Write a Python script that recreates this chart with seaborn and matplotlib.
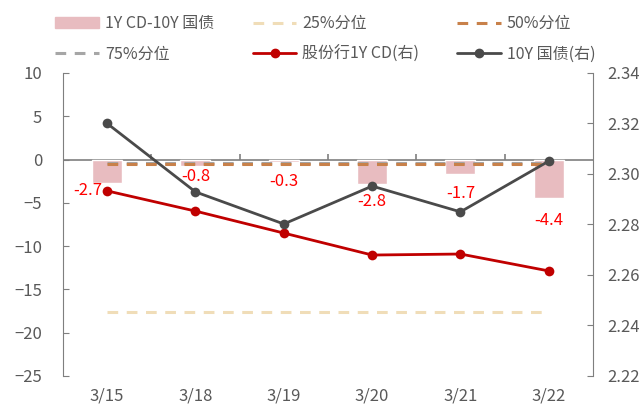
import numpy as np
import seaborn as sns
import matplotlib.pyplot as plt
from matplotlib.lines import Line2D
from matplotlib.patches import Patch

dates = ["3/15", "3/18", "3/19", "3/20", "3/21", "3/22"]
spread = [-2.7, -0.8, -0.3, -2.8, -1.7, -4.4]
cd_1y = [2.2933, 2.2853, 2.2766, 2.2679, 2.2683, 2.2616]
gov_10y = [2.320, 2.2929, 2.2802, 2.2952, 2.2850, 2.3051]
p25, p50, p75 = -17.6, -0.5, -0.45

# label nudges (points), placed like the original
label_off = [(-14, -5.5), (0, -7), (0, -14), (0, -13), (0, -13.5), (0, -16.5)]

sns.set_style("white")
plt.rcParams["font.family"] = ["Noto Sans CJK SC", "DejaVu Sans"]

grey_txt = "#595959"
pink = "#E8BCC0"
red = "#C00000"
dark = "#4A4A4A"
c25, c50, c75 = "#F0DDB8", "#C8814A", "#A6A6A6"
fs = 12

fig = plt.figure(figsize=(6.42, 4.07), dpi=100)
ax = fig.add_axes([0.0981, 0.0762, 0.8255, 0.7445])
x = np.arange(len(dates))

sns.barplot(x=dates, y=spread, color=pink, width=0.34, saturation=1, ax=ax, zorder=2)
sns.lineplot(x=x, y=[p75] * len(x), color=c75, lw=2.2, ax=ax, zorder=3)
ax.lines[-1].set_dashes([3.5, 2.8])
sns.lineplot(x=x, y=[p25] * len(x), color=c25, lw=2.2, ax=ax, zorder=3)
ax.lines[-1].set_dashes([3.5, 2.8])
sns.lineplot(x=x, y=[p50] * len(x), color=c50, lw=2.2, ax=ax, zorder=3)
ax.lines[-1].set_dashes([3.5, 2.8])

ax.set_ylim(-25, 10)
ax.set_yticks(np.arange(-25, 11, 5))
ax.set_xlim(-0.5, len(dates) - 0.5)
ax.axhline(0, color="#7F7F7F", lw=1.2, zorder=1)
ax.vlines(x[:-1] + 0.5, 0, 0.6, color="#7F7F7F", lw=1.2, zorder=1)

for i, v in enumerate(spread):
    ax.annotate(f"{v:.1f}", (i, v), xytext=label_off[i], textcoords="offset points",
                ha="center", va="center", color="#FF0000", fontsize=fs, zorder=6)

ax2 = ax.twinx()
sns.lineplot(x=x, y=cd_1y, color=red, lw=2, marker="o", markersize=7,
             markeredgewidth=0, ax=ax2, zorder=4)
sns.lineplot(x=x, y=gov_10y, color=dark, lw=2, marker="o", markersize=7,
             markeredgewidth=0, ax=ax2, zorder=4)
ax2.set_ylim(2.22, 2.34)
ax2.set_yticks(np.arange(2.22, 2.3401, 0.02))
ax2.set_yticklabels([f"{t:.2f}" for t in np.arange(2.22, 2.3401, 0.02)])

for a in (ax, ax2):
    for s in ("top", "bottom"):
        a.spines[s].set_visible(False)
    a.spines["left"].set_color("#7F7F7F")
    a.spines["right"].set_color("#7F7F7F")
    a.set_xlabel("")
    a.set_ylabel("")
ax.spines["right"].set_visible(False)
ax2.spines["left"].set_visible(False)

ax.tick_params(axis="y", direction="in", length=4, color="#7F7F7F",
               labelcolor=grey_txt, labelsize=fs, pad=15)
ax2.tick_params(axis="y", direction="in", length=4, color="#7F7F7F",
                labelcolor=grey_txt, labelsize=fs, pad=10)
ax.tick_params(axis="x", length=0, labelcolor=grey_txt, labelsize=fs, pad=8)
ax.set_xticks(x)
ax.set_xticklabels(dates)

handles = [
    Patch(color=pink, label="1Y CD-10Y 国债"),
    Line2D([], [], color=c75, lw=2.2, dashes=[3.5, 2.8], label="75%分位"),
    Line2D([], [], color=c25, lw=2.2, dashes=[3.5, 2.8], label="25%分位"),
    Line2D([], [], color=red, lw=2, marker="o", markersize=6, label="股份行1Y CD(右)"),
    Line2D([], [], color=c50, lw=2.2, dashes=[3.5, 2.8], label="50%分位"),
    Line2D([], [], color=dark, lw=2, marker="o", markersize=6, label="10Y 国债(右)"),
]
leg = fig.legend(handles=handles, ncol=3, loc="upper left", bbox_to_anchor=(0.064, 0.998),
                 frameon=False, fontsize=11.5, handlelength=2.75, handletextpad=0.35,
                 columnspacing=2.4, labelspacing=0.85)
for t in leg.get_texts():
    t.set_color(grey_txt)

fig.savefig("out.png", dpi=100)
